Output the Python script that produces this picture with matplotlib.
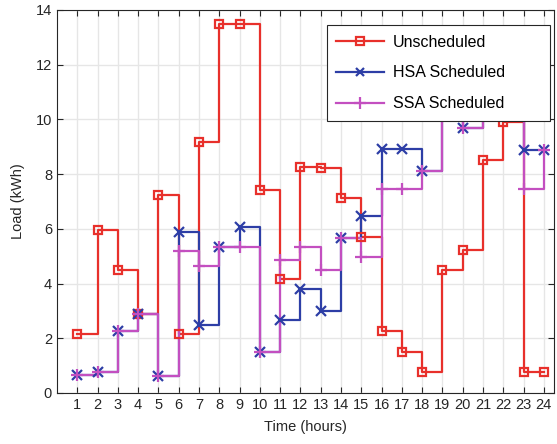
import matplotlib
matplotlib.use("Agg")
import matplotlib.pyplot as plt
from matplotlib.lines import Line2D

plt.rcParams["font.family"] = ["Liberation Sans", "DejaVu Sans"]

hours = list(range(1, 25))
unscheduled = [2.14, 5.95, 4.5, 2.87, 7.23, 2.17, 9.16, 13.48, 13.48, 7.42, 4.15, 8.27,
               8.21, 7.12, 5.71, 2.28, 1.51, 0.77, 4.5, 5.23, 8.52, 9.9, 0.77, 0.77]
hsa = [0.64, 0.77, 2.27, 2.87, 0.62, 5.9, 2.49, 5.35, 6.07, 1.5, 2.66, 3.81,
       3.01, 5.68, 6.46, 8.93, 8.92, 8.12, 11.2, 9.68, 10.6, 11.8, 8.89, 8.89]
ssa = [0.64, 0.77, 2.27, 2.87, 0.62, 5.18, 4.66, 5.35, 5.35, 1.5, 4.87, 5.34,
       4.5, 5.68, 4.98, 7.44, 7.45, 8.12, 11.2, 9.68, 10.6, 11.8, 7.44, 8.89]

series = [
    ("Unscheduled", unscheduled, "#e8302b", "s", 6, "none"),
    ("HSA Scheduled", hsa, "#2d3ea6", "x", 7, None),
    ("SSA Scheduled", ssa, "#c34fc0", "+", 9, None),
]

fig = plt.figure(figsize=(5.57, 4.44), dpi=100)
ax = fig.add_axes([0.1023, 0.1149, 0.8923, 0.8626])

handles = []
for label, vals, color, marker, ms, mfc in series:
    ax.step(hours, vals, where="post", color=color, lw=1.6, zorder=2)
    ax.plot(hours, vals, ls="none", marker=marker, ms=ms, mew=1.6, color=color,
            mfc=mfc if mfc else color, zorder=3)
    handles.append(Line2D([], [], color=color, lw=1.6, marker=marker, ms=ms * 0.9,
                          mew=1.6, mfc=mfc if mfc else color, label=label))

ax.set_xlim(0, 24.5)
ax.set_ylim(0, 14)
ax.set_xticks(hours)
ax.set_yticks(range(0, 15, 2))
ax.tick_params(direction="in", top=True, right=True, labelsize=10.5, length=4,
               color="#262626", labelcolor="#262626")
ax.grid(True, color="#e6e6e6", lw=1)
ax.set_axisbelow(True)
for sp in ax.spines.values():
    sp.set_color("#262626")
    sp.set_linewidth(0.8)

ax.set_xlabel("Time (hours)", fontsize=10.5, color="#262626", labelpad=6)
ax.set_ylabel("Load (kWh)", fontsize=10.5, color="#262626", labelpad=8)

# fixed-width legend box in the upper right corner
leg = ax.legend(handles=handles, loc="upper left",
                bbox_to_anchor=(0.543, 0.715, 0.449, 0.246), mode="expand",
                fontsize=11.5, frameon=True, fancybox=False, framealpha=1,
                edgecolor="#262626", handlelength=3.0, borderpad=0.6,
                labelspacing=1.0, handletextpad=0.55, borderaxespad=0)
leg.get_frame().set_linewidth(0.8)
leg.set_zorder(10)

fig.savefig("out.png", dpi=100)
